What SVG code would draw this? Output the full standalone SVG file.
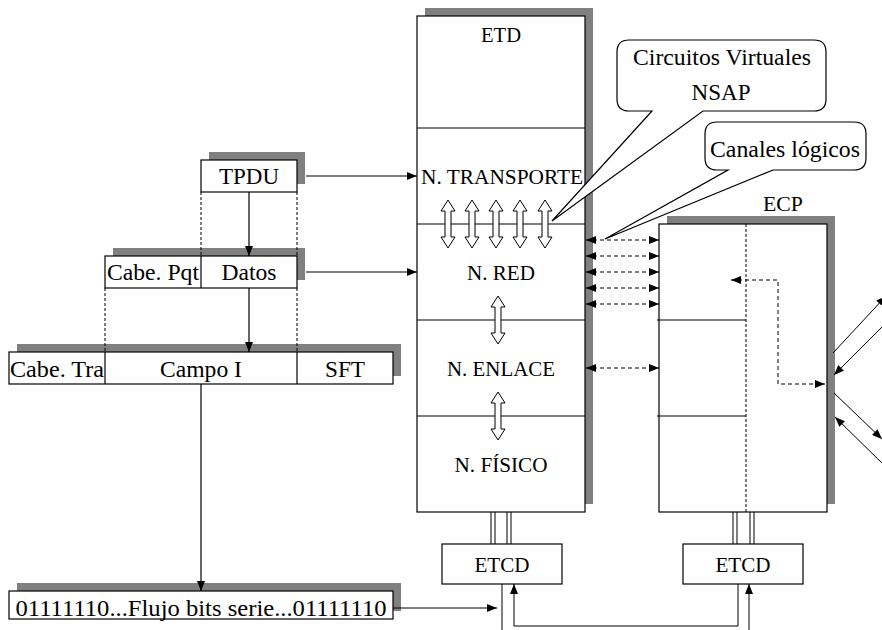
<svg xmlns="http://www.w3.org/2000/svg" width="882" height="630" viewBox="0 0 882 630" font-family="'Liberation Serif', Tinos, 'Times New Roman', 'DejaVu Serif', 'Noto Serif', serif">
<style>
.bx{fill:#fff;stroke:#000;stroke-width:1.2}
.sh{fill:#808080;stroke:none}
.ln{fill:none;stroke:#000;stroke-width:1.2}
.th{fill:none;stroke:#000;stroke-width:1}
.ds{fill:none;stroke:#000;stroke-width:1;stroke-dasharray:4 3}
.dt{fill:none;stroke:#000;stroke-width:1;stroke-dasharray:3 2}
text{font-family:'Liberation Serif', Tinos, 'Times New Roman', 'DejaVu Serif', 'Noto Serif', serif;fill:#000;text-anchor:middle}
.m{font-size:21px}
.l{font-size:23px}
.ha{fill:#fff;stroke:#000;stroke-width:1}
</style>
<defs>
<marker id="ah" viewBox="0 0 10 8" refX="10" refY="4" markerWidth="10" markerHeight="8" orient="auto-start-reverse" markerUnits="userSpaceOnUse">
<path d="M0,0 L10,4 L0,8 Z" fill="#000"/>
</marker>
<path id="dba" d="M0,-24 L7,-13 L3,-13 L3,13 L7,13 L0,24 L-7,13 L-3,13 L-3,-13 L-7,-13 Z"/>
</defs>

<g id="etd">
<rect class="sh" x="425" y="8" width="168" height="496"/>
<rect class="bx" x="417" y="16" width="168" height="496"/>
<line class="ln" x1="417" y1="128" x2="585" y2="128"/>
<line class="ln" x1="417" y1="224" x2="585" y2="224"/>
<line class="ln" x1="417" y1="320" x2="585" y2="320"/>
<line class="ln" x1="417" y1="416" x2="585" y2="416"/>
<text class="m" x="501" y="42" textLength="40" lengthAdjust="spacingAndGlyphs">ETD</text>
<text class="m" x="502" y="184" textLength="162" lengthAdjust="spacingAndGlyphs">N. TRANSPORTE</text>
<text class="m" x="501" y="280" textLength="68" lengthAdjust="spacingAndGlyphs">N. RED</text>
<text class="m" x="501" y="376" textLength="108" lengthAdjust="spacingAndGlyphs">N. ENLACE</text>
<text class="m" x="501" y="472" textLength="93" lengthAdjust="spacingAndGlyphs">N. FÍSICO</text>
<use href="#dba" class="ha" x="448" y="224"/>
<use href="#dba" class="ha" x="472" y="224"/>
<use href="#dba" class="ha" x="496" y="224"/>
<use href="#dba" class="ha" x="520" y="224"/>
<use href="#dba" class="ha" x="545" y="224"/>
<use href="#dba" class="ha" x="498" y="320"/>
<use href="#dba" class="ha" x="498" y="416"/>
</g>

<g id="ecp">
<rect class="sh" x="667" y="216" width="168" height="288"/>
<rect class="bx" x="659" y="224" width="168" height="288"/>
<line class="dt" x1="746" y1="224" x2="746" y2="512"/>
<line class="ln" x1="657" y1="320" x2="746" y2="320"/>
<line class="ln" x1="657" y1="416" x2="746" y2="416"/>
<text class="m" x="783" y="211" textLength="40" lengthAdjust="spacingAndGlyphs">ECP</text>
</g>

<g id="etcd1">
<rect class="bx" x="442" y="544" width="120" height="40"/>
<text class="m" x="502" y="572" textLength="55" lengthAdjust="spacingAndGlyphs">ETCD</text>
</g>
<g id="etcd2">
<rect class="bx" x="683" y="544" width="120" height="40"/>
<text class="m" x="743" y="572" textLength="55" lengthAdjust="spacingAndGlyphs">ETCD</text>
</g>

<g id="tpdu">
<rect class="sh" x="209" y="152" width="96" height="32"/>
<rect class="bx" x="201" y="160" width="96" height="32"/>
<text class="l" x="249" y="184" textLength="60" lengthAdjust="spacingAndGlyphs">TPDU</text>
</g>

<g id="paquete">
<rect class="sh" x="113" y="248" width="192" height="32"/>
<rect class="bx" x="105" y="256" width="192" height="32"/>
<line class="ln" x1="201" y1="256" x2="201" y2="288"/>
<text class="l" x="153" y="280" textLength="92" lengthAdjust="spacingAndGlyphs">Cabe. Pqt</text>
<text class="l" x="249" y="280" textLength="55" lengthAdjust="spacingAndGlyphs">Datos</text>
</g>

<g id="trama">
<rect class="sh" x="17" y="344" width="384" height="32"/>
<rect class="bx" x="9" y="352" width="384" height="32"/>
<line class="ln" x1="105" y1="352" x2="105" y2="384"/>
<line class="ln" x1="297" y1="352" x2="297" y2="384"/>
<text class="l" x="57" y="377" textLength="94" lengthAdjust="spacingAndGlyphs">Cabe. Tra</text>
<text class="l" x="201" y="377" textLength="82" lengthAdjust="spacingAndGlyphs">Campo I</text>
<text class="l" x="345" y="377" textLength="40" lengthAdjust="spacingAndGlyphs">SFT</text>
</g>

<g id="bits">
<rect class="sh" x="17" y="583" width="384" height="28"/>
<rect class="bx" x="9" y="591" width="384" height="28"/>
<text class="l" x="201" y="616" textLength="371" lengthAdjust="spacingAndGlyphs">01111110...Flujo bits serie...01111110</text>
</g>

<g id="callout-cv">
<path class="bx" d="M629,40 H814 Q826,40 826,52 V99 Q826,111 814,111 H703 L552,221 L652,111 H629 Q617,111 617,99 V52 Q617,40 629,40 Z"/>
<text class="l" x="722" y="65" textLength="178" lengthAdjust="spacingAndGlyphs">Circuitos Virtuales</text>
<text class="l" x="721" y="100" textLength="59" lengthAdjust="spacingAndGlyphs">NSAP</text>
</g>

<g id="callout-cl">
<path class="bx" d="M717,122 H854 Q866,122 866,134 V158 Q866,170 854,170 H773 L605,239 L728,170 H717 Q705,170 705,158 V134 Q705,122 717,122 Z"/>
<text class="l" x="785" y="157" textLength="150" lengthAdjust="spacingAndGlyphs">Canales lógicos</text>
</g>

<g id="connectors">
<line class="ln" x1="306" y1="176" x2="417" y2="176" marker-end="url(#ah)"/>
<line class="ln" x1="306" y1="272" x2="417" y2="272" marker-end="url(#ah)"/>
<line class="ln" x1="249" y1="192" x2="249" y2="256" marker-end="url(#ah)"/>
<line class="ln" x1="249" y1="288" x2="249" y2="352" marker-end="url(#ah)"/>
<line class="ln" x1="201" y1="384" x2="201" y2="591" marker-end="url(#ah)"/>
<line class="dt" x1="201" y1="192" x2="201" y2="256"/>
<line class="dt" x1="297" y1="192" x2="297" y2="256"/>
<line class="dt" x1="105" y1="288" x2="105" y2="352"/>
<line class="dt" x1="297" y1="288" x2="297" y2="352"/>
<line class="ds" x1="586" y1="240" x2="659" y2="240" marker-start="url(#ah)" marker-end="url(#ah)"/>
<line class="ds" x1="586" y1="256" x2="659" y2="256" marker-start="url(#ah)" marker-end="url(#ah)"/>
<line class="ds" x1="586" y1="272" x2="659" y2="272" marker-start="url(#ah)" marker-end="url(#ah)"/>
<line class="ds" x1="586" y1="288" x2="659" y2="288" marker-start="url(#ah)" marker-end="url(#ah)"/>
<line class="ds" x1="586" y1="304" x2="659" y2="304" marker-start="url(#ah)" marker-end="url(#ah)"/>
<line class="ds" x1="586" y1="368" x2="659" y2="368" marker-start="url(#ah)" marker-end="url(#ah)"/>
<path class="ds" d="M731,280 H778 V384 H825" marker-start="url(#ah)" marker-end="url(#ah)"/>
<line class="th" x1="833" y1="353" x2="886" y2="296" marker-end="url(#ah)"/>
<line class="th" x1="884" y1="325" x2="834" y2="375" marker-end="url(#ah)"/>
<line class="th" x1="834" y1="393" x2="882" y2="439" marker-end="url(#ah)"/>
<line class="th" x1="884" y1="465" x2="835" y2="417" marker-end="url(#ah)"/>
<line class="th" x1="491" y1="512" x2="491" y2="544"/>
<line class="th" x1="495" y1="512" x2="495" y2="544"/>
<line class="th" x1="507" y1="512" x2="507" y2="544"/>
<line class="th" x1="511" y1="512" x2="511" y2="544"/>
<line class="th" x1="733" y1="512" x2="733" y2="544"/>
<line class="th" x1="737" y1="512" x2="737" y2="544"/>
<line class="th" x1="750" y1="512" x2="750" y2="544"/>
<line class="th" x1="754" y1="512" x2="754" y2="544"/>
<line class="th" x1="393" y1="608" x2="497" y2="608" marker-end="url(#ah)"/>
<line class="th" x1="502" y1="584" x2="502" y2="640"/>
<path class="th" d="M738,584 V626 H514 V584" marker-end="url(#ah)"/>
<line class="th" x1="749" y1="640" x2="749" y2="584" marker-end="url(#ah)"/>
</g>
</svg>
